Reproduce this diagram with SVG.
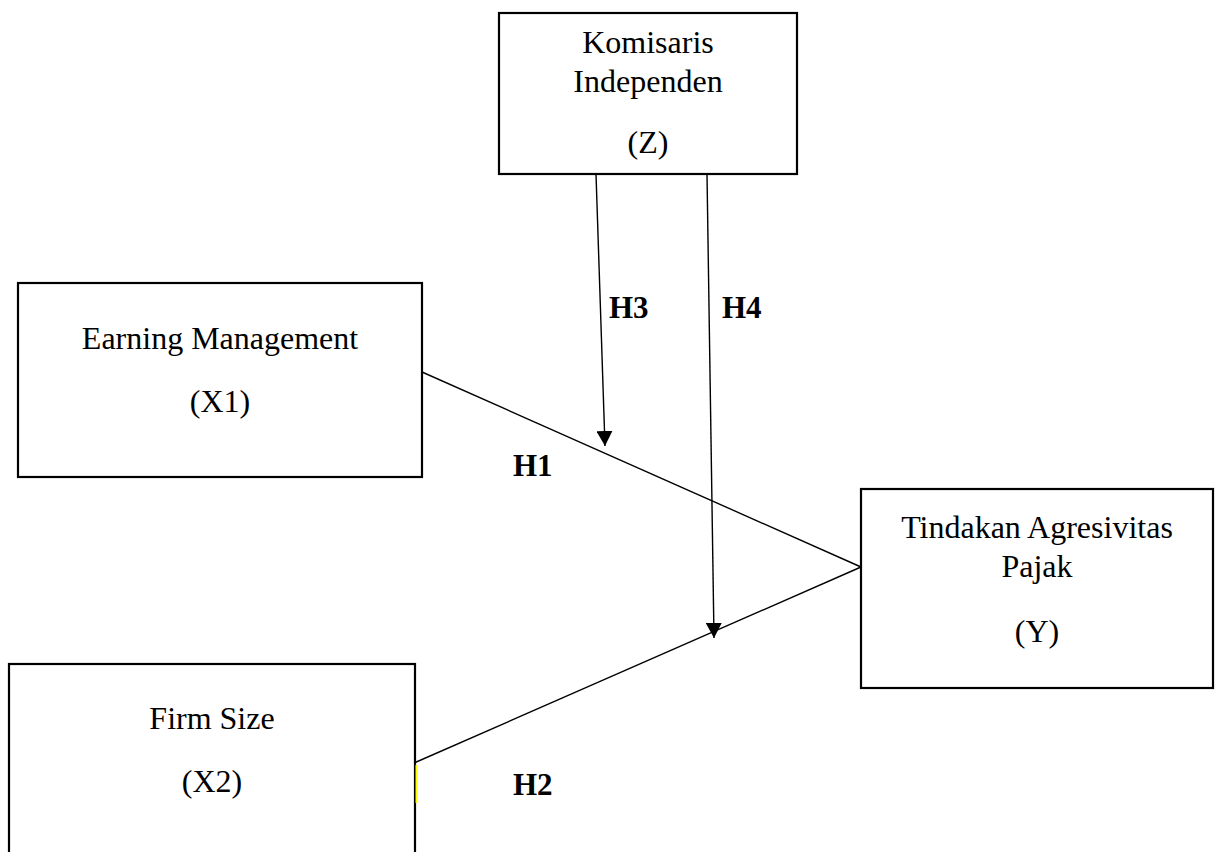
<svg xmlns="http://www.w3.org/2000/svg" width="1221" height="852" viewBox="0 0 1221 852">
  <style>
    .box { fill: #ffffff; stroke: #000000; stroke-width: 2.2; }
    .lbl { font-family: "Liberation Serif", "Times New Roman", serif; font-size: 32px; fill: #000000; text-anchor: middle; }
    .hyp { font-family: "Liberation Serif", "Times New Roman", serif; font-size: 31px; font-weight: bold; fill: #000000; }
    .ln { stroke: #000000; stroke-width: 1.4; fill: none; }
  </style>
  <defs>
    <marker id="arrow" markerWidth="15" markerHeight="16" viewBox="0 0 15 16" refX="15" refY="8" orient="auto" markerUnits="userSpaceOnUse">
      <path d="M0,0 L15,8 L0,16 Z" fill="#000000"/>
    </marker>
  </defs>
  <rect width="1221" height="852" fill="#ffffff"/>

  <g id="node-z">
    <rect class="box" x="499" y="13" width="298" height="161"/>
    <text class="lbl" x="648" y="53">Komisaris</text>
    <text class="lbl" x="648" y="92">Independen</text>
    <text class="lbl" x="648" y="153">(Z)</text>
  </g>

  <g id="node-x1">
    <rect class="box" x="18" y="283" width="404" height="194"/>
    <text class="lbl" x="220" y="349">Earning Management</text>
    <text class="lbl" x="220" y="412">(X1)</text>
  </g>

  <g id="node-x2">
    <rect class="box" x="9" y="664" width="406" height="200"/>
    <line x1="416.5" y1="765" x2="416.5" y2="803" stroke="#ffff00" stroke-width="2"/>
    <text class="lbl" x="212" y="729">Firm Size</text>
    <text class="lbl" x="212" y="792">(X2)</text>
  </g>

  <g id="node-y">
    <rect class="box" x="861" y="489" width="352" height="199"/>
    <text class="lbl" x="1037" y="538">Tindakan Agresivitas</text>
    <text class="lbl" x="1037" y="577">Pajak</text>
    <text class="lbl" x="1037" y="642">(Y)</text>
  </g>

  <g id="connectors">
    <line class="ln" x1="422" y1="372" x2="861" y2="567"/>
    <line class="ln" x1="414" y1="763" x2="861" y2="567"/>
    <line class="ln" x1="596" y1="174" x2="605" y2="446" marker-end="url(#arrow)"/>
    <line class="ln" x1="707" y1="174" x2="714" y2="638" marker-end="url(#arrow)"/>
  </g>

  <g id="labels">
    <text class="hyp" x="609" y="318">H3</text>
    <text class="hyp" x="722" y="318">H4</text>
    <text class="hyp" x="513" y="476">H1</text>
    <text class="hyp" x="513" y="795">H2</text>
  </g>
</svg>
